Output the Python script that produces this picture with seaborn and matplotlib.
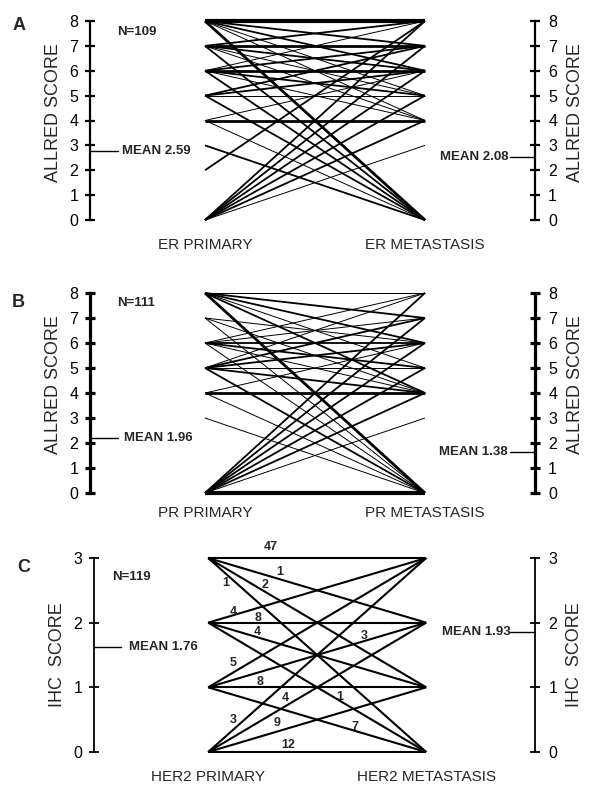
import seaborn as sns
import matplotlib.pyplot as plt
import numpy as np
import pandas as pd

sns.set_theme(style='white')
plt.rcParams['font.family'] = ['Liberation Sans', 'DejaVu Sans']

# --- Panel A: ER Allred score, primary -> metastasis (count drives line width)
er_prim = [8, 8, 8, 8, 8, 8, 7, 7, 7, 7, 7, 7, 6, 6, 6, 6, 6, 6, 5, 5, 5, 5, 4, 4, 4, 3, 2, 0, 0, 0, 0, 0, 0]
er_meta = [8, 7, 6, 5, 4, 0, 8, 7, 6, 5, 4, 0, 8, 7, 6, 5, 4, 0, 7, 6, 5, 0, 4, 0, 6, 0, 8, 8, 7, 6, 5, 4, 3]
er_count = [20, 3, 2, 1, 1, 4, 2, 8, 3, 1, 1, 2, 1, 3, 6, 2, 1, 3, 2, 3, 1, 3, 4, 1, 1, 2, 2, 3, 3, 2, 3, 2, 1]
er_n = 109
er_mean = [2.59, 2.08]

# --- Panel B: PR Allred score
pr_prim = [8, 8, 8, 8, 8, 8, 7, 7, 7, 6, 6, 6, 6, 6, 6, 5, 5, 5, 5, 5, 5, 4, 4, 4, 3, 0, 0, 0, 0, 0, 0, 0]
pr_meta = [8, 7, 6, 5, 4, 0, 6, 4, 0, 8, 7, 6, 5, 4, 0, 8, 7, 6, 5, 4, 0, 4, 6, 0, 0, 8, 7, 6, 5, 4, 3, 0]
pr_count = [1, 3, 3, 1, 2, 5, 1, 1, 1, 1, 1, 3, 2, 1, 1, 1, 2, 2, 1, 3, 3, 4, 1, 1, 1, 2, 3, 2, 2, 3, 1, 30]
pr_n = 111
pr_mean = [1.96, 1.38]

# --- Panel C: HER2 IHC score, every combination with its count
her_prim = [3, 3, 3, 3, 2, 2, 2, 2, 1, 1, 1, 1, 0, 0, 0, 0]
her_meta = [3, 2, 1, 0, 3, 2, 1, 0, 3, 2, 1, 0, 3, 2, 1, 0]
her_count = [47, 1, 2, 1, 4, 8, 4, 1, 5, 3, 8, 7, 3, 4, 9, 12]
her_n = 119
her_mean = [1.76, 1.93]
# where the count numbers sit (x along primary->metastasis, y in score units)
her_lab_x = [0.286, 0.327, 0.259, 0.082, 0.114, 0.227, 0.227, 0.605, 0.114, 0.718, 0.24, 0.673, 0.114, 0.355, 0.318, 0.368]
her_lab_y = [3.17, 2.78, 2.58, 2.61, 2.16, 2.07, 1.85, 0.85, 1.37, 1.79, 1.08, 0.39, 0.49, 0.83, 0.45, 0.11]


def lw_for(c, uniform=None):
    if uniform is not None:
        return uniform
    if c >= 10:
        return 3.0
    if c >= 4:
        return 2.0
    if c >= 2:
        return 1.3
    return 0.7


def make_df(prim, meta, counts, uniform=None):
    rows = []
    for i, (p, m, c) in enumerate(zip(prim, meta, counts)):
        w = lw_for(c, uniform)
        rows.append({'pair': i, 'side': 0, 'score': p, 'w': w})
        rows.append({'pair': i, 'side': 1, 'score': m, 'w': w})
    return pd.DataFrame(rows)


XL = (90 - 205) / 220.0
XR = (535 - 205) / 220.0


def panel(rect, letter, df, ymax, spine_w, ylabel, xlabels, n, means, mean_y,
          mean_txt_x, n_pos, letter_y, xlab_y, ylab_y):
    ax = fig.add_axes(rect)
    widths = sorted(df['w'].unique())
    sns.lineplot(data=df, x='side', y='score', units='pair', estimator=None,
                 size='w', sizes={w: w for w in widths}, color='black',
                 legend=False, ax=ax)
    for ln in ax.lines:
        ln.set_clip_on(False)
        ln.set_solid_capstyle('butt')
    ax.set_xlim(XL, XR)
    ax.set_ylim(0, ymax)
    ax.set_xticks([])
    ax.set_xlabel('')
    ax.set_yticks(range(ymax + 1))
    for s in ['top', 'bottom', 'right']:
        ax.spines[s].set_visible(False)
    ax.spines['left'].set_linewidth(spine_w)
    ax.spines['left'].set_color('black')
    ax.tick_params(axis='y', direction='inout', length=7, width=spine_w,
                   labelsize=11.5, pad=5, left=True, colors='black')
    ax.set_ylabel(ylabel, fontsize=13, va='center')
    ax.yaxis.set_label_coords(-0.083, ylab_y)

    ax2 = ax.twinx()
    ax2.set_ylim(0, ymax)
    ax2.set_yticks(range(ymax + 1))
    for s in ['top', 'bottom', 'left']:
        ax2.spines[s].set_visible(False)
    ax2.spines['right'].set_linewidth(spine_w)
    ax2.spines['right'].set_color('black')
    ax2.tick_params(axis='y', direction='inout', length=7, width=spine_w,
                    labelsize=11.5, pad=6, right=True, colors='black')
    ax2.set_ylabel(ylabel, fontsize=13, va='center', rotation=90)
    ax2.yaxis.set_label_coords(1.09, ylab_y)
    ax2.grid(False)
    ax.grid(False)

    # mean markers
    ax.plot([XL, XL + 0.125], [mean_y[0], mean_y[0]], color='black', lw=1, clip_on=False)
    ax.text(mean_txt_x[0], mean_y[0], 'MEAN %.2f' % means[0], fontsize=9.5,
            fontweight='bold', va='center', ha='left')
    ax.plot([XR - 0.115, XR], [mean_y[1], mean_y[1]], color='black', lw=1, clip_on=False)
    ax.text(mean_txt_x[1], mean_y[1], 'MEAN %.2f' % means[1], fontsize=9.5,
            fontweight='bold', va='center', ha='right')

    ax.text(n_pos[0], n_pos[1], 'N=%d' % n, fontsize=9.5, fontweight='bold',
            va='center', ha='left')
    ax.text(-0.175, letter_y, letter, fontsize=13, fontweight='bold',
            va='center', ha='left', transform=ax.get_yaxis_transform())
    tr = ax.get_xaxis_transform()
    ax.text(0, xlab_y, xlabels[0], fontsize=11, ha='center', va='center', transform=tr)
    ax.text(1, xlab_y, xlabels[1], fontsize=11, ha='center', va='center', transform=tr)
    return ax


fig = plt.figure(figsize=(6, 7.99), dpi=100)

panel([0.15, 1 - 220 / 799, 0.7417, 199 / 799], 'A',
      make_df(er_prim, er_meta, er_count), 8, 1.6, 'ALLRED SCORE',
      ['ER PRIMARY', 'ER METASTASIS'], er_n, er_mean, [2.78, 2.53],
      [-0.377, 1.38], [-0.4, 7.55], 7.8, -0.126, 0.54)

panel([0.15, 1 - 493 / 799, 0.7417, 200 / 799], 'B',
      make_df(pr_prim, pr_meta, pr_count), 8, 2.3, 'ALLRED SCORE',
      ['PR PRIMARY', 'PR METASTASIS'], pr_n, pr_mean, [2.21, 1.65],
      [-0.37, 1.375], [-0.4, 7.6], 7.6, -0.1, 0.54)

axc = panel([0.157, 1 - 752 / 799, 0.735, 194 / 799], 'C',
            make_df(her_prim, her_meta, her_count, uniform=1.5), 3, 1.3, 'IHC  SCORE',
            ['HER2 PRIMARY', 'HER2 METASTASIS'], her_n, her_mean, [1.63, 1.85],
            [-0.363, 1.39], [-0.44, 2.7], 2.85, -0.129, 0.5)
for c, x, y in zip(her_count, her_lab_x, her_lab_y):
    axc.text(x, y, str(c), fontsize=9, fontweight='bold', ha='center', va='center')

fig.savefig('out.png', dpi=100)
